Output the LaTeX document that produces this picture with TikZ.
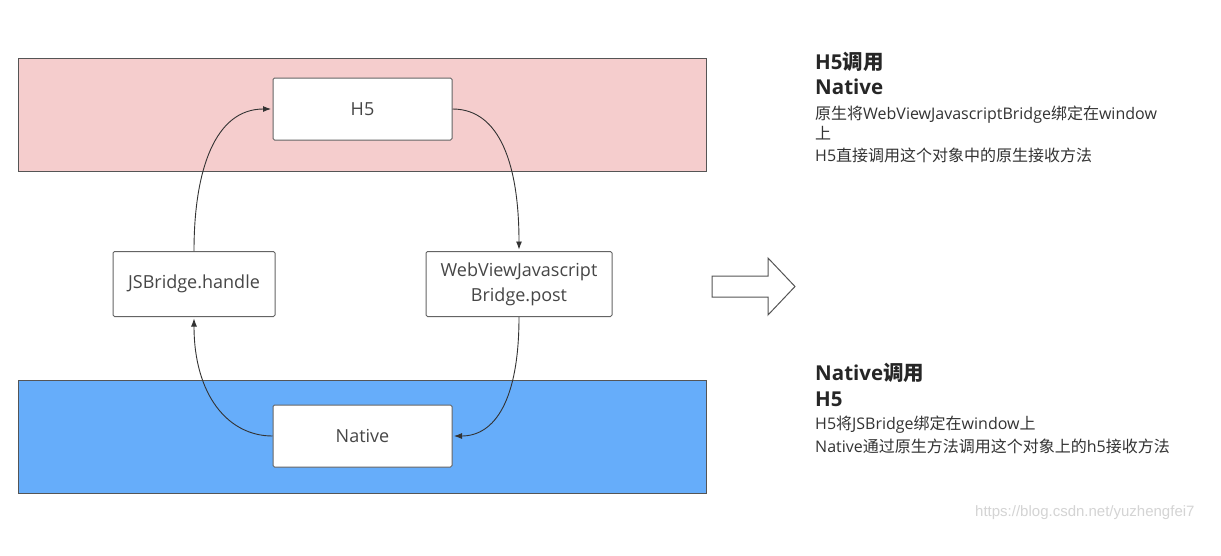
\documentclass[tikz,border=0pt]{standalone}
\usepackage{fontspec}
\setmainfont{Open Sans}
\newfontfamily\cjk{Noto Sans CJK SC}
\newfontfamily\wmfont{Liberation Sans}
\usetikzlibrary{arrows.meta}
\definecolor{pinkband}{RGB}{245,205,205}
\definecolor{blueband}{RGB}{102,173,250}
\definecolor{edgegray}{RGB}{85,85,85}
\definecolor{boxedge}{RGB}{100,100,100}
\definecolor{txtgray}{RGB}{70,70,70}
\newcommand{\zh}[1]{{\cjk #1}}
\begin{document}
\begin{tikzpicture}[x=1pt,y=-1pt,
  band/.style={draw=edgegray, line width=1pt},
  box/.style={draw=boxedge, fill=white, rounded corners=1.5pt, line width=1pt,
    font=\fontsize{18}{25}\selectfont, text=txtgray, align=center, inner sep=0pt},
  flow/.style={draw=black!80, line width=0.9pt, shorten >=1.5pt, -{Latex[length=8pt,width=6pt]}},
  title/.style={anchor=west, inner sep=0pt, font=\fontsize{20.5}{24}\selectfont\bfseries, text=black!85},
  body/.style={anchor=west, inner sep=0pt, font=\fontsize{16}{19}\selectfont, text=black!80},
  wmark/.style={anchor=west, inner sep=0pt, font=\wmfont\fontsize{15}{18}\selectfont, text=black!17}]
\useasboundingbox (0,0) rectangle (1221,555);
\fill[white] (0,0) rectangle (1221,555);
% bands
\draw[band, fill=pinkband] (18,58) rectangle (706,171);
\draw[band, fill=blueband] (18,380) rectangle (706,493);
% boxes
\node[box, minimum width=179pt, minimum height=62pt] (h5) at (362.5,109) {H5};
\node[box, minimum width=179pt, minimum height=62pt] (native) at (362.5,436) {Native};
\node[box, minimum width=162pt, minimum height=65pt] (jsb) at (194,284) {JSBridge.handle};
\node[box, minimum width=186pt, minimum height=65pt] (wv) at (519,284) {WebViewJavascript\\Bridge.post};
% connectors
\draw[flow] (jsb.north) .. controls (194,170) and (215,109) .. (h5.west);
\draw[flow] (h5.east) .. controls (500,109) and (519,165) .. (wv.north);
\draw[flow] (wv.south) .. controls (519,400) and (495,436) .. (native.east);
\draw[flow] (native.west) .. controls (228,436) and (194,395) .. (jsb.south);
% block arrow
\draw[draw=edgegray, fill=white, line width=1pt, line join=miter]
  (712,276) -- (768,276) -- (768,258) -- (795,286.5) -- (768,315) -- (768,297) -- (712,297) -- cycle;
% right-hand text
\node[title] (t1a) at (815,62) {H5\zh{调用}};
\node[title] (t1b) at (815,87) {Native};
\node[body] (b1a) at (815,115) {\zh{原生将}WebViewJavascriptBridge\zh{绑定在}window};
\node[body] (b1b) at (815,133) {\zh{上}};
\node[body] (b1c) at (815,155) {H5\zh{直接调用这个对象中的原生接收方法}};
\node[title] (t2a) at (815,373) {Native\zh{调用}};
\node[title] (t2b) at (815,399) {H5};
\node[body] (b2a) at (815,425) {H5\zh{将}JSBridge\zh{绑定在}window\zh{上}};
\node[body] (b2b) at (815,446) {Native\zh{通过原生方法调用这个对象上的}h5\zh{接收方法}};
\node[wmark] (wm) at (975,513) {https://blog.csdn.net/yuzhengfei7};
\end{tikzpicture}
\end{document}
